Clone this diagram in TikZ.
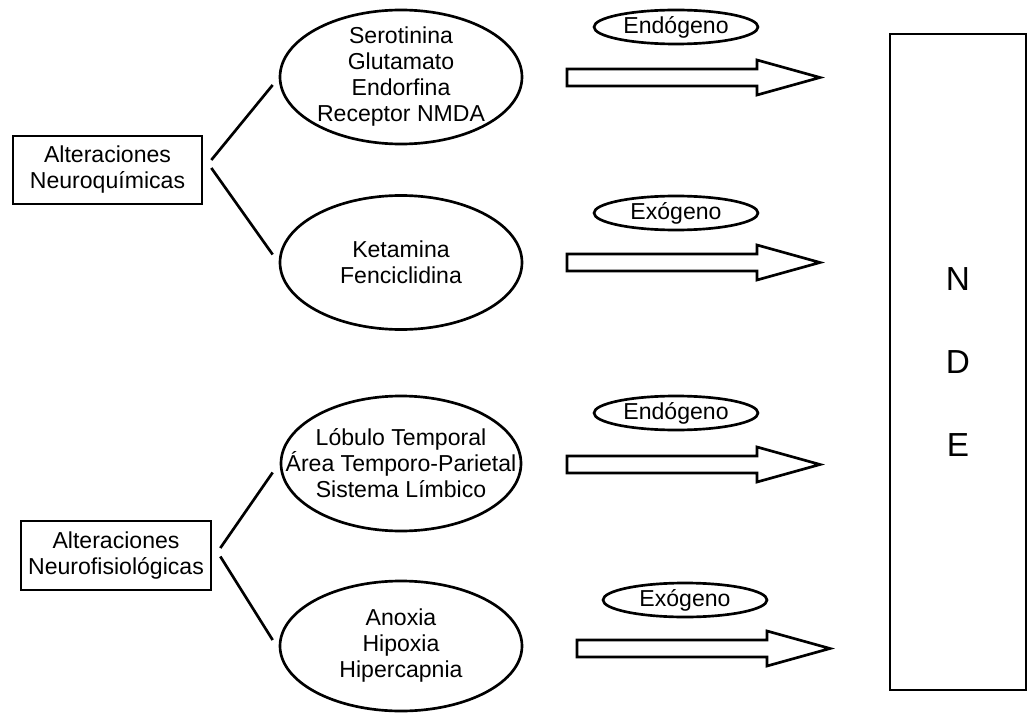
\documentclass[tikz,border=0pt]{standalone}
\usepackage{fontspec}
\setmainfont{Liberation Sans}
\usetikzlibrary{shapes.geometric}

\tikzset{
  caja/.style={draw, line width=2pt, rectangle, inner sep=0pt, align=center,
    minimum width=141.75pt, minimum height=51pt, font=\fontsize{17.3}{19.5}\selectfont},
  ovalo/.style={draw, line width=2pt, ellipse, inner sep=0pt,
    minimum width=181.5pt, minimum height=100.5pt},
  texto/.style={inner sep=0pt, align=center, font=\fontsize{17.3}{19.5}\selectfont},
  etiqueta/.style={draw, line width=2pt, ellipse, inner sep=0pt,
    minimum width=123pt, minimum height=25.5pt, font=\fontsize{17.3}{19.5}\selectfont},
  linea/.style={line width=2pt},
  bloque/.style={line width=2pt, line join=miter},
}

% flecha de bloque: x inicial, y central
\newcommand{\flecha}[2]{%
  \draw[bloque] (#1,#2-8.5) -- (#1+190,#2-8.5) -- (#1+190,#2-17.5) -- (#1+253,#2)
    -- (#1+190,#2+17.5) -- (#1+190,#2+8.5) -- (#1,#2+8.5) -- cycle;}

\begin{document}
\begin{tikzpicture}[x=0.75pt,y=0.75pt,yscale=-1,xscale=1]
\useasboundingbox (0,0) rectangle (1028,713);

%Shape: Rectangle
\node[caja] (quimicas) at (107.5,170) {Alteraciones\\Neuroquímicas};
\node[caja, minimum width=142.5pt, minimum height=51.75pt] (fisiologicas) at (116,555.5) {Alteraciones\\Neurofisiológicas};

%Shape: Ellipse
\node[ovalo] (sustancias) at (401,77) {};
\node[texto] at (sustancias) {Serotinina\\Glutamato\\Endorfina\\Receptor NMDA};
\node[ovalo] (drogas) at (401,262.5) {};
\node[texto] at (drogas) {Ketamina\\Fenciclidina};
\node[ovalo, minimum width=180pt, minimum height=101.25pt] (areas) at (401,463.5) {};
\node[texto] at (areas) {Lóbulo Temporal\\Área Temporo-Parietal\\Sistema Límbico};
\node[ovalo, minimum height=97.5pt] (gases) at (401,646) {};
\node[texto] at (gases) {Anoxia\\Hipoxia\\Hipercapnia};

%Straight Lines
\draw[linea] ([shift={(8,-10)}]quimicas.east) -- ([shift={(-6,8)}]sustancias.west);
\draw[linea] ([shift={(8,-2)}]quimicas.east) -- ([shift={(-6,-8)}]drogas.west);
\draw[linea] ([shift={(8,-7.5)}]fisiologicas.east) -- ([shift={(-7,9)}]areas.west);
\draw[linea] ([shift={(8,1)}]fisiologicas.east) -- ([shift={(-6,-6)}]gases.west);

%Shape: Ellipse
\node[etiqueta] (endo1) at (676,27) {Endógeno};
\node[etiqueta] (exo1) at (676,213) {Exógeno};
\node[etiqueta] (endo2) at (676,413) {Endógeno};
\node[etiqueta] (exo2) at (685,600) {Exógeno};

%Shape: Right Arrow
\flecha{567}{77.5}
\flecha{567}{262.5}
\flecha{567}{464.5}
\flecha{577}{648.5}

%Shape: Rectangle
\node[draw, line width=2pt, rectangle, inner sep=0pt, minimum width=102pt, minimum height=492pt,
  align=center, font=\fontsize{25}{62}\selectfont] (nde) at (958,362) {N\\D\\E};

\end{tikzpicture}
\end{document}
